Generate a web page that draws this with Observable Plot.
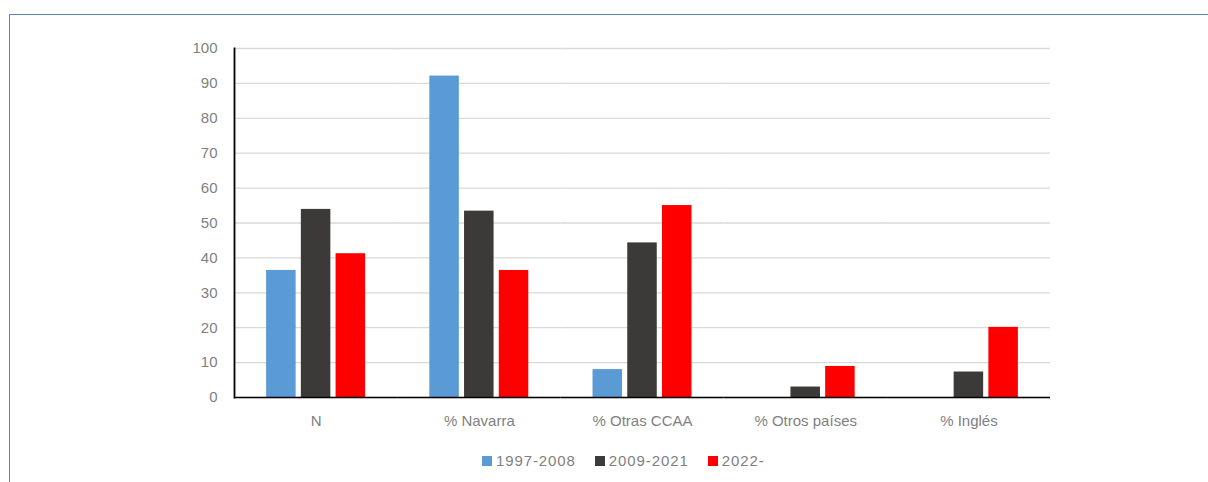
<!DOCTYPE html>
<html>
<head>
<meta charset="utf-8">
<script src="https://cdn.jsdelivr.net/npm/d3@7"></script>
<script src="https://cdn.jsdelivr.net/npm/@observablehq/plot@0.6"></script>
<style>
  html, body { margin: 0; padding: 0; background: #fff; width: 1208px; height: 482px; overflow: hidden; }
  #border { position: absolute; left: 9px; top: 14px; width: 1300px; height: 600px;
            border-left: 1.5px solid #5b85be; border-top: 1.5px solid #5b85be; }
  #chart { position: absolute; left: 0; top: 0; }
  #legend { position: absolute; left: 482px; top: 452px; display: flex; align-items: center;
            font-family: "Liberation Sans", Arial, sans-serif; font-size: 15px; color: #7f7f7f; letter-spacing: 0.9px; }
  .item { display: flex; align-items: center; margin-right: 19px; }
  .sw { width: 10px; height: 10px; margin-right: 4px; }
</style>
</head>
<body>
<div id="border"></div>
<div id="chart"></div>
<div id="legend"></div>
<script>
const categories = ["N", "% Navarra", "% Otras CCAA", "% Otros países", "% Inglés"];
const series = ["1997-2008", "2009-2021", "2022-"];
const v1997 = [36.4, 92.1, 8.0, 0, 0];
const v2009 = [53.9, 53.4, 44.3, 3.0, 7.3];
const v2022 = [41.2, 36.4, 55.0, 8.9, 20.1];
const colors = ["#5b9bd5", "#3b3a38", "#ff0000"];
const yTicks = [0, 10, 20, 30, 40, 50, 60, 70, 80, 90, 100];

const seriesValues = [v1997, v2009, v2022];
const data = categories.flatMap((c, i) =>
  series.map((s, j) => ({category: c, series: s, value: seriesValues[j][i]}))
);

const chart = Plot.plot({
  width: 1208,
  height: 440,
  marginLeft: 234,
  marginRight: 158,
  marginTop: 48,
  marginBottom: 43,
  style: {fontFamily: "Liberation Sans, Arial, sans-serif", fontSize: "15px", background: "transparent"},
  fx: {domain: categories, padding: 0, label: null, round: false},
  x: {domain: series, paddingInner: 0.15, paddingOuter: 0.925, axis: null, round: false},
  y: {domain: [0, 100], label: null},
  color: {domain: series, range: colors},
  marks: [
    Plot.gridY(yTicks, {stroke: "#d9d9d9", strokeOpacity: 1, strokeWidth: 1.3}),
    Plot.barY(data, {fx: "category", x: "series", y: "value", fill: "series"}),
    Plot.ruleY([0], {stroke: "#000", strokeWidth: 1.6}),
    Plot.axisY(yTicks, {tickSize: 0, tickPadding: 17, color: "#7f7f7f", fontSize: 15, label: null}),
    Plot.axisFx({anchor: "bottom", tickSize: 0, tickPadding: 18, color: "#7f7f7f", fontSize: 15, label: null}),
    Plot.frame({anchor: "left", facetAnchor: "left", stroke: "#000", strokeWidth: 1.8})
  ]
});
document.getElementById("chart").appendChild(chart);

const legend = document.getElementById("legend");
series.forEach((s, i) => {
  const item = document.createElement("div");
  item.className = "item";
  const sw = document.createElement("div");
  sw.className = "sw";
  sw.style.background = colors[i];
  const t = document.createElement("span");
  t.textContent = s;
  item.appendChild(sw);
  item.appendChild(t);
  legend.appendChild(item);
});
</script>
</body>
</html>
